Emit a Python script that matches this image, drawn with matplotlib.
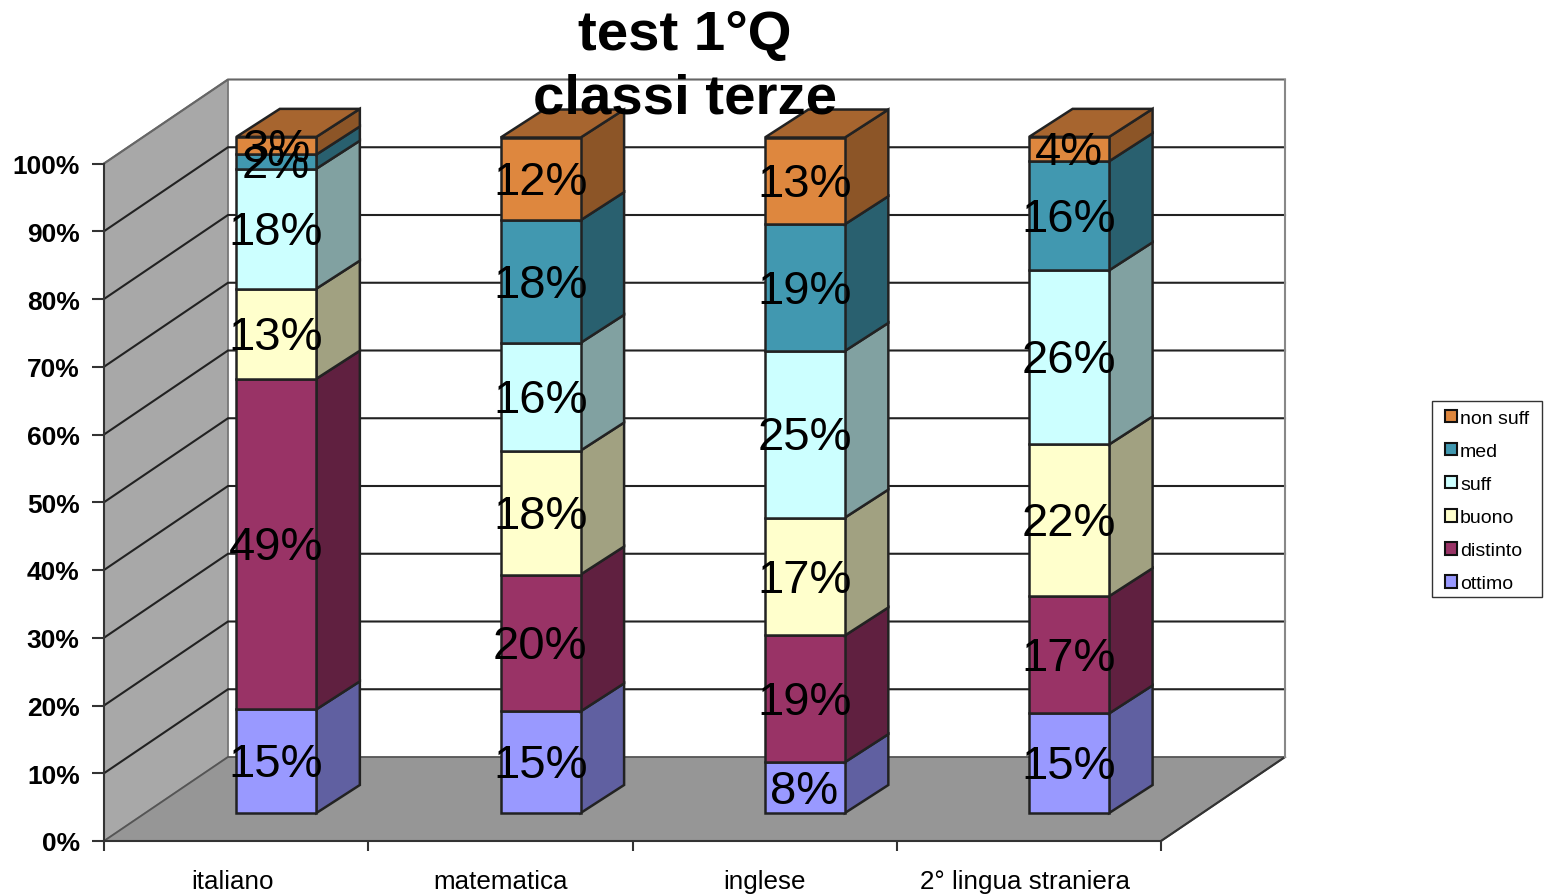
import matplotlib
matplotlib.use("Agg")
import matplotlib.pyplot as plt
from matplotlib.patches import Patch, Rectangle
from matplotlib.transforms import Bbox

plt.rcParams['font.family'] = ['Liberation Sans', 'DejaVu Sans']

categories = ["italiano", "matematica", "inglese", "2° lingua straniera"]
series_names = ["ottimo", "distinto", "buono", "suff", "med", "non suff"]
ottimo = [15.3, 15.0, 7.5, 14.7]
distinto = [48.8, 20.2, 18.7, 17.3]
buono = [13.3, 18.3, 17.4, 22.4]
suff = [17.7, 15.9, 24.6, 25.7]
med = [2.1, 18.1, 18.7, 16.1]
non_suff = [2.6, 12.2, 12.8, 3.6]
series = [ottimo, distinto, buono, suff, med, non_suff]
colors = ["#9999ff", "#993366", "#ffffcc", "#ccffff", "#4198b0", "#de873e"]
pct_ticks = list(range(0, 101, 10))

W, H = 1544, 895
fig = plt.figure(figsize=(W / 100, H / 100), dpi=100, facecolor="white")
ax = fig.add_axes([104 / W, (H - 842) / H, 1057 / W, 677.5 / H])
ax.set_xlim(0, 4)
ax.set_ylim(0, 100)
ax.patch.set_visible(False)
for s in ["top", "right"]:
    ax.spines[s].set_visible(False)
for s in ["left", "bottom"]:
    ax.spines[s].set_color("#333333")
    ax.spines[s].set_linewidth(1.5)
    ax.spines[s].set_zorder(5)

# oblique projection: depth runs 0 (front) to 1 (back wall)
DX = 124 / (1057 / 4)
DY = 84 / 6.775


def proj(x, y, d):
    return x + d * DX, y + d * DY


def poly(points, **kw):
    xs, ys = zip(*[proj(*p) for p in points])
    return ax.fill(xs, ys, clip_on=False, **kw)


def shade(hexcolor, f):
    rgb = matplotlib.colors.to_rgb(hexcolor)
    return tuple(c * f for c in rgb)


# walls and floor
poly([(0, 0, 0), (0, 0, 1), (0, 100, 1), (0, 100, 0)], facecolor="#a8a8a8",
     edgecolor="#777777", linewidth=1.3, zorder=1)
poly([(0, 0, 0), (4, 0, 0), (4, 0, 1), (0, 0, 1)], facecolor="#969696",
     edgecolor="#555555", linewidth=1.3, zorder=1)

# back wall frame and gridlines
for p in pct_ticks[1:]:
    x0, y0 = proj(0, p, 0)
    x1, y1 = proj(0, p, 1)
    x2, y2 = proj(4, p, 1)
    col = "#666666" if p == 100 else "#222222"
    ax.plot([x0, x1, x2], [y0, y1, y2], color=col, lw=1.5, clip_on=False, zorder=2)
x1, y1 = proj(4, 0, 0)
x2, y2 = proj(4, 0, 1)
x3, y3 = proj(4, 100, 1)
ax.plot([x1, x2], [y1, y2], color="#333333", lw=1.5, clip_on=False, zorder=2)
ax.plot([x2, x3], [y2, y3], color="#888888", lw=1.5, clip_on=False, zorder=2)

# stacked bars
BAR_W = 80 / (1057 / 4)
D0, D1 = 1 / 3, 2 / 3
EDGE = dict(edgecolor="#222222", linewidth=1.8)
NUDGE = 0.004
for i in range(len(categories)):
    left = i + 0.5 - BAR_W / 2 - NUDGE
    right = left + BAR_W
    back_left, back_right = left + 2 * NUDGE, right + 2 * NUDGE
    base = 0.0
    for j, vals in enumerate(series):
        v = vals[i]
        top = base + v
        poly([(right, base, D0), (back_right, base, D1), (back_right, top, D1), (right, top, D0)],
             facecolor=shade(colors[j], 0.63), zorder=3, **EDGE)
        poly([(left, base, D0), (right, base, D0), (right, top, D0), (left, top, D0)],
             facecolor=colors[j], zorder=3, **EDGE)
        if j == len(series) - 1:
            poly([(left, top, D0), (right, top, D0), (back_right, top, D1), (back_left, top, D1)],
                 facecolor=shade(colors[j], 0.75), zorder=3, **EDGE)
        lx, ly = proj((left + right) / 2, base + v / 2, D0)
        ax.annotate(f"{v:.0f}%", (lx, ly), xytext=(-0.5, -3), textcoords="offset pixels",
                    ha="center", va="center", fontsize=34, color="black", zorder=6,
                    annotation_clip=False)
        base = top

# axes ticks and labels
ax.set_yticks(pct_ticks)
ax.set_yticklabels([f"{p}%" for p in pct_ticks], fontsize=19, fontweight="bold")
ax.tick_params(axis="y", length=9, width=1.5, color="#333333", pad=8.5)
ax.set_xticks(range(5))
ax.set_xticklabels([""] * 5)
ax.tick_params(axis="x", which="major", length=7, width=1.5, color="#333333")
ax.set_xticks([0.487, 1.5, 2.5, 3.487], minor=True)
ax.set_xticklabels(categories, minor=True, fontsize=18.7)
ax.tick_params(axis="x", which="minor", length=0, pad=20)

# title
fig.text(685 / W, 1 - 67.5 / H, "test 1°Q\nclassi terze", ha="center", va="center",
         fontsize=40.6, fontweight="bold", color="black", linespacing=1.29, zorder=10)

# legend
handles = [Patch(facecolor=colors[j], edgecolor="#111111", linewidth=1.5,
                 label=series_names[j]) for j in reversed(range(len(series)))]
fig.add_artist(Rectangle((1432 / W, 1 - 598 / H), 110 / W, 196 / H, transform=fig.transFigure,
                         facecolor="white", edgecolor="#333333", linewidth=1.0))
box = Bbox.from_extents(1432 / W, 1 - 600 / H, 1542 / W, 1 - 404 / H)
leg = fig.legend(handles=handles, loc="center", bbox_to_anchor=box, fontsize=14,
                 frameon=False,
                 handlelength=0.62, handleheight=0.62, handletextpad=0.15,
                 labelspacing=0.82, borderpad=0.4, borderaxespad=0)

fig.savefig("out.png", dpi=100)
